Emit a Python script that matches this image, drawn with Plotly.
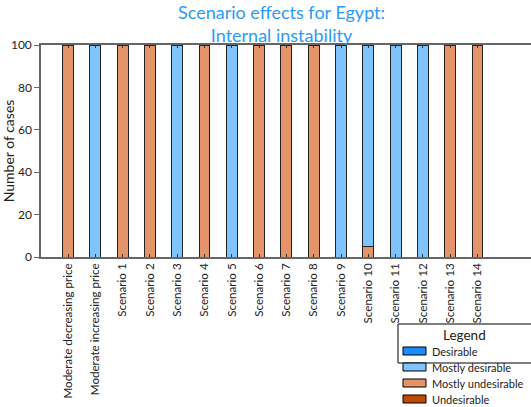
import plotly.graph_objects as go

# Data
categories = ["Moderate decreasing price", "Moderate increasing price"] + [f"Scenario {i}" for i in range(1, 15)]
undesirable = [0, 0, 0, 0, 0, 0, 0, 0, 0, 0, 0, 0, 0, 0, 0, 0]
mostly_undesirable = [100, 0, 100, 100, 0, 100, 0, 100, 100, 100, 0, 5, 0, 0, 100, 100]
mostly_desirable = [0, 100, 0, 0, 100, 0, 100, 0, 0, 0, 100, 95, 100, 100, 0, 0]
desirable = [0, 0, 0, 0, 0, 0, 0, 0, 0, 0, 0, 0, 0, 0, 0, 0]
y_ticks = [0, 20, 40, 60, 80, 100]
title_text = "Scenario effects for Egypt:<br>Internal instability"

series_names = ["Desirable", "Mostly desirable", "Mostly undesirable", "Undesirable"]
series_colors = ["#1a8cff", "#80c4ff", "#e49468", "#c04b00"]

FONT = "Lato"

fig = go.Figure()

# stacked from bottom: undesirable -> desirable
stack = [
    (undesirable, "Undesirable", "#c04b00"),
    (mostly_undesirable, "Mostly undesirable", "#e49468"),
    (mostly_desirable, "Mostly desirable", "#80c4ff"),
    (desirable, "Desirable", "#1a8cff"),
]
for vals, name, col in stack:
    fig.add_trace(go.Bar(
        x=list(range(len(categories))),
        y=vals,
        name=name,
        width=0.4,
        marker=dict(color=col, line=dict(color="#222222", width=1)),
        showlegend=False,
    ))

fig.update_layout(
    template="none",
    barmode="stack",
    width=531,
    height=407,
    plot_bgcolor="white",
    paper_bgcolor="white",
    margin=dict(l=41, r=0, t=45, b=150),
    font=dict(family=FONT, size=11, color="#222222"),
)

# title as one centred annotation above the plot
fig.add_annotation(text=title_text, xref="paper", yref="paper",
                   x=(281 - 41) / 490, y=(257 - 24) / 212,
                   showarrow=False, xanchor="center", yanchor="middle",
                   font=dict(family=FONT, size=18, color="#2b9bf4"))

fig.update_xaxes(
    range=[-0.99, 16.96],
    tickmode="array",
    tickvals=list(range(len(categories))),
    ticktext=categories,
    tickangle=-90,
    ticks="inside", ticklen=3, tickcolor="#333333",
    showline=True, linecolor="#666666", linewidth=1.5, mirror="ticks",
    showgrid=False, zeroline=False, automargin=False,
    tickfont=dict(family=FONT, size=11.6, color="#222222"),
)
fig.update_yaxes(
    range=[0, 100],
    tickvals=y_ticks,
    ticks="outside", ticklen=5, tickcolor="#666666",
    showline=True, linecolor="#666666", linewidth=1.5,
    showgrid=False, zeroline=False, automargin=False,
    title=dict(text="Number of cases", font=dict(family=FONT, size=14, color="#222222"), standoff=1),
    tickfont=dict(family=FONT, size=12, color="#222222"),
)

# hand-drawn legend box in the lower right corner
fig.add_shape(type="rect", xref="paper", yref="paper",
              x0=(398 - 41) / 490, x1=1.1, y0=-0.5, y1=(257 - 324) / 212,
              line=dict(color="black", width=1), fillcolor="white")
fig.add_annotation(text="Legend", xref="paper", yref="paper",
                   x=(464 - 41) / 490, y=(257 - 335) / 212,
                   showarrow=False, xanchor="center", yanchor="middle",
                   font=dict(family=FONT, size=13.5, color="#222222"))
item_y = [351, 367, 383, 399]
for name, col, yy in zip(series_names, series_colors, item_y):
    fig.add_shape(type="rect", xref="paper", yref="paper",
                  x0=(403 - 41) / 490, x1=(426 - 41) / 490,
                  y0=(257 - yy - 4) / 212, y1=(257 - yy + 4) / 212,
                  line=dict(color="black", width=1), fillcolor=col)
    fig.add_annotation(text=name, xref="paper", yref="paper",
                       x=(431 - 41) / 490, y=(257 - yy) / 212,
                       width=96, align="left", borderpad=0,
                       showarrow=False, xanchor="left", yanchor="middle",
                       font=dict(family=FONT, size=11, color="#222222"))

fig.write_html("out.html", config={"displayModeBar": False},
               post_script="document.body.style.margin='0';document.body.style.overflow='hidden';")
